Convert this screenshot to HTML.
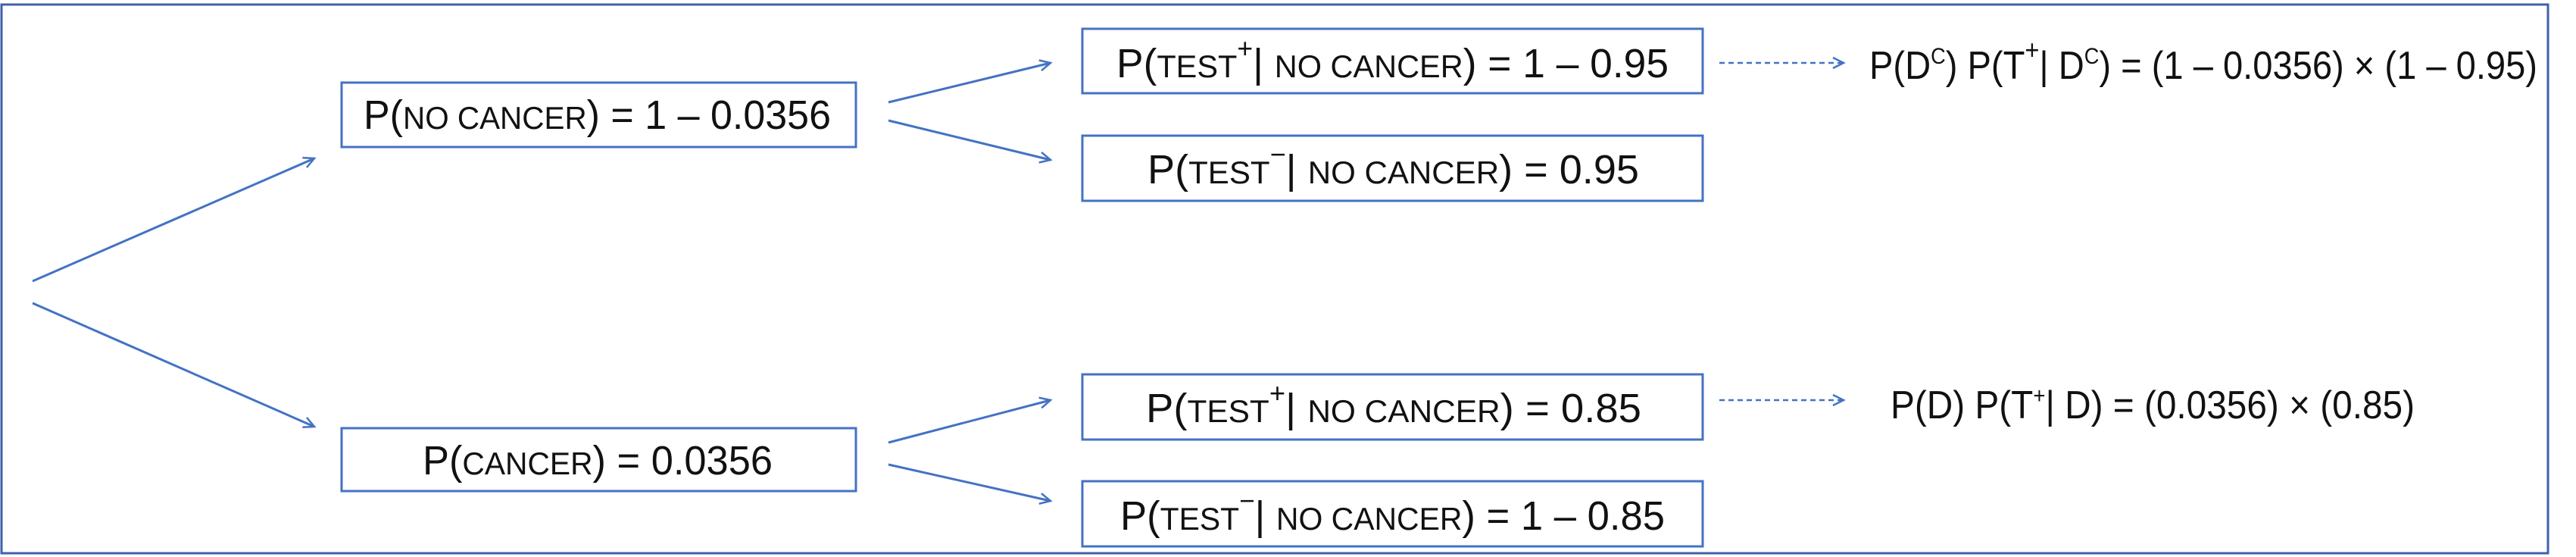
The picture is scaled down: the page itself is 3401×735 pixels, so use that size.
<!DOCTYPE html>
<html><head><meta charset="utf-8"><style>
html,body{margin:0;padding:0;background:#fff;width:3401px;height:735px;overflow:hidden}
svg{display:block}
text{font-family:"Liberation Sans",sans-serif;fill:#111}
</style></head><body>
<svg width="3401" height="735" viewBox="0 0 3401 735" xmlns="http://www.w3.org/2000/svg">
<defs>
<marker id="a" markerWidth="20" markerHeight="20" refX="16" refY="8" orient="auto" markerUnits="userSpaceOnUse">
<path d="M2,1 L16,8 L2,15" fill="none" stroke="#4472C4" stroke-width="2.5"/></marker>
</defs>
<rect x="2" y="6" width="3362" height="724" fill="none" stroke="#3F62A8" stroke-width="3"/>
<g stroke="#4472C4" stroke-width="3" fill="none">
<rect x="451" y="109" width="679" height="85"/>
<rect x="451" y="565" width="679" height="83"/>
<rect x="1429" y="38" width="819" height="85"/>
<rect x="1429" y="179" width="819" height="86"/>
<rect x="1429" y="494" width="819" height="86"/>
<rect x="1429" y="635" width="819" height="86"/>
<line x1="43" y1="371" x2="415" y2="209" marker-end="url(#a)"/>
<line x1="43" y1="400" x2="415" y2="563" marker-end="url(#a)"/>
<line x1="1173" y1="135" x2="1387" y2="83" marker-end="url(#a)"/>
<line x1="1173" y1="159" x2="1387" y2="211" marker-end="url(#a)"/>
<line x1="1173" y1="584" x2="1387" y2="528" marker-end="url(#a)"/>
<line x1="1173" y1="613" x2="1387" y2="661" marker-end="url(#a)"/>
<line x1="2270" y1="83" x2="2434" y2="83" stroke-dasharray="7,5" stroke-width="2.5" marker-end="url(#a)"/>
<line x1="2270" y1="528" x2="2434" y2="528" stroke-dasharray="7,5" stroke-width="2.5" marker-end="url(#a)"/>
</g>
<text x="480" y="170" font-size="54" textLength="617" lengthAdjust="spacingAndGlyphs">P(<tspan font-size="42">NO CANCER</tspan>) = 1 – 0.0356</text>
<text x="558" y="626" font-size="54" textLength="462" lengthAdjust="spacingAndGlyphs">P(<tspan font-size="42">CANCER</tspan>) = 0.0356</text>
<text x="1474" y="102" font-size="54" textLength="729" lengthAdjust="spacingAndGlyphs">P(<tspan font-size="42">TEST</tspan><tspan font-size="36" dy="-26">+</tspan><tspan dy="26">| </tspan><tspan font-size="42">NO CANCER</tspan>) = 1 – 0.95</text>
<text x="1515" y="242" font-size="54" textLength="649" lengthAdjust="spacingAndGlyphs">P(<tspan font-size="42">TEST</tspan><tspan font-size="36" dy="-26">−</tspan><tspan dy="26">| </tspan><tspan font-size="42">NO CANCER</tspan>) = 0.95</text>
<text x="1513" y="557" font-size="54" textLength="654" lengthAdjust="spacingAndGlyphs">P(<tspan font-size="42">TEST</tspan><tspan font-size="36" dy="-26">+</tspan><tspan dy="26">| </tspan><tspan font-size="42">NO CANCER</tspan>) = 0.85</text>
<text x="1479" y="699" font-size="54" textLength="719" lengthAdjust="spacingAndGlyphs">P(<tspan font-size="42">TEST</tspan><tspan font-size="36" dy="-26">−</tspan><tspan dy="26">| </tspan><tspan font-size="42">NO CANCER</tspan>) = 1 – 0.85</text>
<text x="2468" y="104" font-size="52" textLength="882" lengthAdjust="spacingAndGlyphs">P(D<tspan font-size="30" dy="-20">C</tspan><tspan dy="20">) P(T</tspan><tspan font-size="36" dy="-26">+</tspan><tspan dy="26">| D</tspan><tspan font-size="30" dy="-20">C</tspan><tspan dy="20">) = (1 – 0.0356) × (1 – 0.95)</tspan></text>
<text x="2496" y="552" font-size="52" textLength="692" lengthAdjust="spacingAndGlyphs">P(D) P(T<tspan font-size="30" dy="-20">+</tspan><tspan dy="20">| D) = (0.0356) × (0.85)</tspan></text>
</svg>
</body></html>
